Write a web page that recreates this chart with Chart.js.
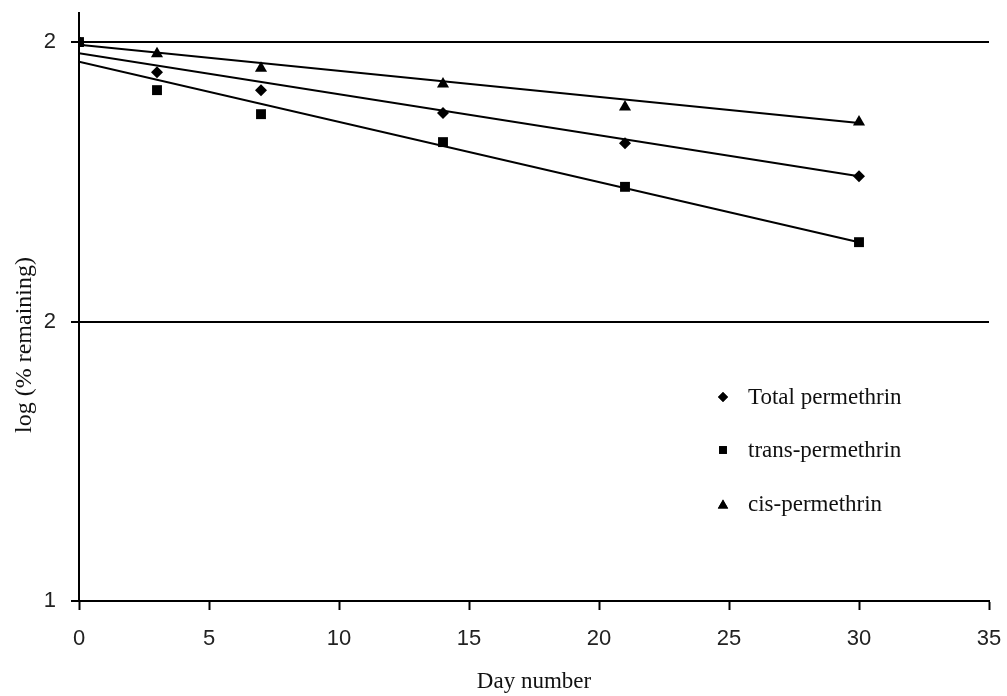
<!DOCTYPE html>
<html lang="en">
<head>
<meta charset="UTF-8">
<title>Permethrin</title>
<script src="https://cdn.jsdelivr.net/npm/chart.js"></script>
<style>
  body { margin: 0; background: #fff; }
  #wrap { width: 1007px; height: 696px; position: relative; }
</style>
</head>
<body>
<div id="wrap"><canvas id="chart"></canvas></div>
<script>
// data
const days = [0, 3, 7, 14, 21, 30];
const totalVals = [2.000, 1.946, 1.914, 1.873, 1.819, 1.760];
const transVals = [2.000, 1.914, 1.871, 1.821, 1.741, 1.642];
const cisVals   = [2.000, 1.979, 1.953, 1.925, 1.884, 1.857];

// fitted lines (end points at day 0 and day 30)
const fitDays  = [0, 30];
const totalFit = [1.980, 1.760];
const transFit = [1.965, 1.642];
const cisFit   = [1.995, 1.855];

const yTickValues = [1, 1.5, 2];
const yTickLabels = ['1', '2', '2'];
const seriesNames = ['Total permethrin', 'trans-permethrin', 'cis-permethrin'];

const pts = (xs, ys) => xs.map((x, i) => ({ x: x, y: ys[i] }));

const serif = "'Liberation Serif', 'Times New Roman', serif";
const sans = "'Liberation Sans', Arial, sans-serif";

function markerSet(label, data, style, r) {
  return {
    label: label, data: data, showLine: false,
    pointStyle: style, pointRadius: r, pointHoverRadius: r,
    backgroundColor: '#000', borderColor: '#000', borderWidth: 0
  };
}
function fitSet(data) {
  return {
    label: '', data: data, showLine: true,
    pointRadius: 0, borderColor: '#000', borderWidth: 2
  };
}

// legend + y title drawn inside the plot
const extras = {
  id: 'extras',
  afterDraw(chart) {
    const ctx = chart.ctx;
    ctx.save();
    ctx.fillStyle = '#111';
    ctx.font = '23px ' + serif;
    ctx.textBaseline = 'middle';
    const rows = [397, 450, 504];
    const styles = ['rectRot', 'rect', 'triangle'];
    const radii = [5, 5.5, 6];
    seriesNames.forEach((name, i) => {
      Chart.helpers.drawPoint(ctx, { pointStyle: styles[i], radius: radii[i], borderWidth: 0 }, 723, rows[i] + (styles[i] === 'triangle' ? 1.5 : 0));
      ctx.fillStyle = '#000';
      ctx.fill();
      ctx.fillStyle = '#111';
      ctx.fillText(name, 748, rows[i] + 1);
    });
    ctx.font = '24px ' + serif;
    ctx.translate(25, 345);
    ctx.rotate(-Math.PI / 2);
    ctx.textAlign = 'center';
    ctx.fillText('log (% remaining)', 0, 0);
    ctx.restore();
  }
};

new Chart(document.getElementById('chart'), {
  type: 'scatter',
  data: {
    datasets: [
      markerSet(seriesNames[0], pts(days, totalVals), 'rectRot', 6),
      markerSet(seriesNames[1], pts(days, transVals), 'rect', 7),
      markerSet(seriesNames[2], pts(days, cisVals), 'triangle', 7),
      fitSet(pts(fitDays, totalFit)),
      fitSet(pts(fitDays, transFit)),
      fitSet(pts(fitDays, cisFit))
    ]
  },
  options: {
    responsive: true,
    maintainAspectRatio: false,
    animation: false,
    layout: { padding: { top: 13, right: 18, left: 0, bottom: 0 } },
    plugins: { legend: { display: false }, tooltip: { enabled: false } },
    scales: {
      x: {
        type: 'linear', min: 0, max: 35,
        ticks: { stepSize: 5, padding: 16, color: '#222', font: { family: sans, size: 22 } },
        grid: { drawOnChartArea: false, drawTicks: true, tickLength: 9, tickColor: '#000', tickWidth: 2 },
        border: { color: '#000', width: 2 },
        title: { display: true, text: 'Day number', color: '#111', font: { family: serif, size: 23 }, padding: 0 },
        afterFit(s) { s.height = 95; s.paddingLeft = 0; s.paddingRight = 0; }
      },
      y: {
        type: 'linear', min: 1, max: 2.052,
        afterBuildTicks(s) { s.ticks = yTickValues.map(v => ({ value: v })); },
        ticks: {
          padding: 15, color: '#222', font: { family: sans, size: 22 },
          callback: (v) => yTickLabels[yTickValues.indexOf(v)]
        },
        grid: { color: '#000', lineWidth: 2, tickLength: 8 },
        border: { color: '#000', width: 2 },
        afterFit(s) { s.width = 79; s.paddingTop = 0; s.paddingBottom = 0; }
      }
    }
  },
  plugins: [extras]
});
</script>
</body>
</html>
